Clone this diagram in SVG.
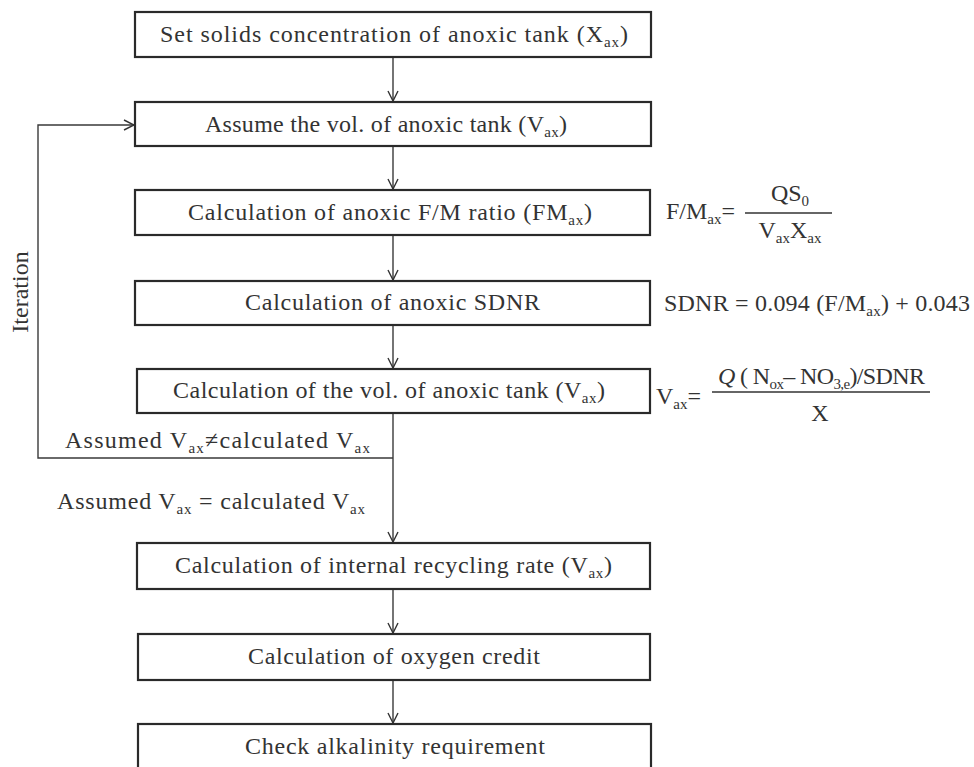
<svg xmlns="http://www.w3.org/2000/svg" width="974" height="767" viewBox="0 0 974 767">
<defs>
<marker id="arr" viewBox="0 0 12 12" refX="11" refY="6" markerWidth="12" markerHeight="12" markerUnits="userSpaceOnUse" orient="auto">
<polyline points="1,1 11,6 1,11" fill="none" stroke="#333" stroke-width="1.4"/>
</marker>
<style>
.box{fill:#fff;stroke:#2a2a2a;stroke-width:2.2}
.t{font-family:"Liberation Serif","Times New Roman",serif;font-size:24px;fill:#333}
.c{text-anchor:middle}
.s{font-size:15px}
.ln{fill:none;stroke:#3a3a3a;stroke-width:1.4}
</style>
</defs>
<rect width="974" height="767" fill="#fff"/>

<g id="connectors">
<line class="ln" x1="393" y1="57" x2="393" y2="101" marker-end="url(#arr)"/>
<line class="ln" x1="393" y1="146" x2="393" y2="189" marker-end="url(#arr)"/>
<line class="ln" x1="393" y1="235" x2="393" y2="280" marker-end="url(#arr)"/>
<line class="ln" x1="393" y1="325" x2="393" y2="368" marker-end="url(#arr)"/>
<line class="ln" x1="393" y1="413" x2="393" y2="542" marker-end="url(#arr)"/>
<polyline class="ln" points="393,458 38,458 38,125 134,125" marker-end="url(#arr)"/>
<line class="ln" x1="393" y1="589" x2="393" y2="633" marker-end="url(#arr)"/>
<line class="ln" x1="393" y1="680" x2="393" y2="723" marker-end="url(#arr)"/>
</g>

<g id="n1"><rect class="box" x="135" y="12" width="516" height="45"/>
<text class="t" x="160" y="42" textLength="468" lengthAdjust="spacing">Set solids concentration of anoxic tank (X<tspan class="s" dy="5">ax</tspan><tspan dy="-5">)</tspan></text></g>

<g id="n2"><rect class="box" x="135" y="102" width="516" height="44"/>
<text class="t" x="205" y="132" textLength="362" lengthAdjust="spacing">Assume the vol. of anoxic tank (V<tspan class="s" dy="5">ax</tspan><tspan dy="-5">)</tspan></text></g>

<g id="n3"><rect class="box" x="135" y="190" width="515" height="45"/>
<text class="t" x="188" y="220" textLength="404" lengthAdjust="spacing">Calculation of anoxic F/M ratio (FM<tspan class="s" dy="5">ax</tspan><tspan dy="-5">)</tspan></text></g>

<g id="n4"><rect class="box" x="135" y="281" width="515" height="44"/>
<text class="t" x="245" y="310" textLength="295" lengthAdjust="spacing">Calculation of anoxic SDNR</text></g>

<g id="n5"><rect class="box" x="137" y="369" width="513" height="44"/>
<text class="t" x="173" y="398" textLength="432" lengthAdjust="spacing">Calculation of the vol. of anoxic tank (V<tspan class="s" dy="5">ax</tspan><tspan dy="-5">)</tspan></text></g>

<g id="n6"><rect class="box" x="137" y="543" width="513" height="46"/>
<text class="t" x="175" y="573" textLength="437" lengthAdjust="spacing">Calculation of internal recycling rate (V<tspan class="s" dy="5">ax</tspan><tspan dy="-5">)</tspan></text></g>

<g id="n7"><rect class="box" x="138" y="634" width="512" height="46"/>
<text class="t" x="248" y="664" textLength="292" lengthAdjust="spacing">Calculation of oxygen credit</text></g>

<g id="n8"><rect class="box" x="138" y="724" width="513" height="48"/>
<text class="t" x="245" y="754" textLength="300" lengthAdjust="spacing">Check alkalinity requirement</text></g>

<g id="labels">
<text class="t c" transform="translate(28,292) rotate(-90)">Iteration</text>
<text class="t" x="65" y="448" textLength="305" lengthAdjust="spacing">Assumed V<tspan class="s" dy="5">ax</tspan><tspan dy="-5">≠calculated V</tspan><tspan class="s" dy="5">ax</tspan></text>
<text class="t" x="57" y="509" textLength="308" lengthAdjust="spacing">Assumed V<tspan class="s" dy="5">ax</tspan><tspan dy="-5"> = calculated V</tspan><tspan class="s" dy="5">ax</tspan></text>
</g>

<g id="eq1">
<text class="t" x="666" y="219">F/M<tspan class="s" dy="5">ax</tspan><tspan dy="-5">=</tspan></text>
<text class="t c" x="790" y="201">QS<tspan class="s" dy="5">0</tspan></text>
<line x1="745" y1="213" x2="832" y2="213" stroke="#333" stroke-width="1.3"/>
<text class="t c" x="790" y="238">V<tspan class="s" dy="5">ax</tspan><tspan dy="-5">X</tspan><tspan class="s" dy="5">ax</tspan></text>
</g>

<g id="eq2">
<text class="t" x="664" y="311" textLength="306" lengthAdjust="spacing">SDNR = 0.094 (F/M<tspan class="s" dy="5">ax</tspan><tspan dy="-5">) + 0.043</tspan></text>
</g>

<g id="eq3">
<text class="t" x="656" y="404">V<tspan class="s" dy="5">ax</tspan><tspan dy="-5">=</tspan></text>
<text class="t" x="718" y="384" textLength="207" lengthAdjust="spacing"><tspan font-style="italic">Q</tspan> ( N<tspan class="s" dy="5">ox</tspan><tspan dy="-5">– NO</tspan><tspan class="s" dy="5">3,e</tspan><tspan dy="-5">)/SDNR</tspan></text>
<line x1="712" y1="392" x2="930" y2="392" stroke="#333" stroke-width="1.3"/>
<text class="t c" x="820" y="421">X</text>
</g>
</svg>
